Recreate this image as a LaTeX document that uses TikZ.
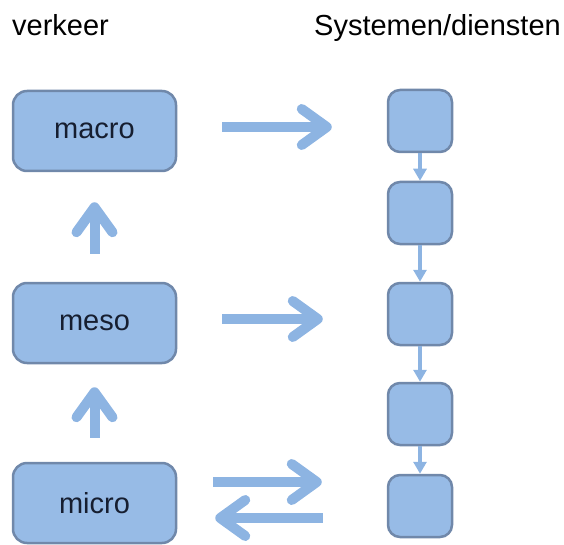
\documentclass[tikz,border=0pt]{standalone}
\usepackage{fontspec}
\setmainfont{Liberation Sans}
\usetikzlibrary{arrows.meta}
\definecolor{boxfill}{RGB}{151,187,230}
\definecolor{boxline}{RGB}{112,136,170}
\definecolor{arrowblue}{RGB}{141,180,226}
\definecolor{textnavy}{RGB}{22,30,48}
\begin{document}
\begin{tikzpicture}[x=1pt,y=-1pt]
\tikzstyle{level_style} = [draw=boxline, line width=2.5pt, rounded corners=14pt, fill=boxfill, minimum width=163pt, minimum height=80pt, text=textnavy, font=\fontsize{29}{34}\selectfont]
\tikzstyle{system_style} = [draw=boxline, line width=2.5pt, rounded corners=12pt, fill=boxfill, minimum width=64pt, minimum height=62pt]
\tikzstyle{head_style} = [inner sep=0pt, text=black, font=\fontsize{29}{34}\selectfont]
\tikzstyle{big_arrow} = [arrowblue, line width=10pt, -{Straight Barb[round, length=25pt, width=36pt]}]
\tikzstyle{small_arrow} = [arrowblue, line width=4pt, -{Triangle[length=12pt, width=13pt]}]
    \useasboundingbox (0,0) rectangle (564,545);

    \node[head_style, anchor=base west] (h1) at (12,36) {verkeer};
    \node[head_style, anchor=base east] (h2) at (561,36) {Systemen/diensten};

    \node[level_style] (macro) at (94.5,131) {macro};
    \node[level_style] (meso) at (94.5,323) {meso};
    \node[level_style] (micro) at (94.5,503) {micro};

    \node[system_style] (s1) at (420,121) {};
    \node[system_style] (s2) at (420,213) {};
    \node[system_style] (s3) at (420,314) {};
    \node[system_style] (s4) at (420,414) {};
    \node[system_style] (s5) at (420,506) {};

    \draw[small_arrow] (s1) edge (s2);
    \draw[small_arrow] (s2) edge (s3);
    \draw[small_arrow] (s3) edge (s4);
    \draw[small_arrow] (s4) edge (s5);

    \draw[big_arrow, shorten <=28pt, shorten >=30pt] (meso.north) -- (macro.south);
    \draw[big_arrow, shorten <=24pt, shorten >=23pt] (micro.north) -- (meso.north |- meso.south);

    \draw[big_arrow, shorten <=45pt, shorten >=55pt] ([yshift=4pt]macro.east) -- ([yshift=4pt]macro.east -| s1.west);
    \draw[big_arrow, shorten <=45pt, shorten >=64pt] ([yshift=4pt]meso.east) -- ([yshift=4pt]meso.east -| s3.west);
    \draw[big_arrow, shorten <=36pt, shorten >=65pt] ([yshift=21pt]micro.east) -- ([yshift=21pt]micro.east -| s5.west);
    \draw[big_arrow, shorten <=64pt, shorten >=38pt] ([yshift=-15pt]micro.east -| s5.west) -- ([yshift=-15pt]micro.east);
\end{tikzpicture}
\end{document}
